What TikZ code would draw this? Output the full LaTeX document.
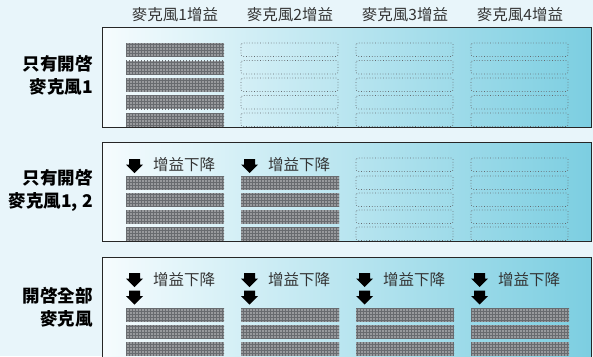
\documentclass[tikz,border=0pt]{standalone}
\usepackage{fontspec}
\setmainfont{Noto Sans CJK TC}
\usepackage{tikz}
\usetikzlibrary{patterns,positioning,calc}

\definecolor{bgblue}{RGB}{232,245,250}
\definecolor{panelleft}{RGB}{246,252,254}
\definecolor{panelright}{RGB}{124,206,225}
\definecolor{barfill}{RGB}{152,154,157}
\definecolor{bargrid}{RGB}{104,107,111}
\definecolor{dotgray}{RGB}{100,105,110}

\tikzset{
  panel/.style={draw=black!85, line width=0.8pt, left color=panelleft, right color=panelright},
  fullbar/.style={fill=barfill, postaction={pattern=grid, pattern color=bargrid}},
  emptybar/.style={draw=dotgray, dotted, line width=0.7pt, rounded corners=1.5pt},
  header/.style={font=\fontsize{15.5}{17}\selectfont, text=black!80, inner sep=0pt},
  rowlabel/.style={font=\fontsize{17.5}{23}\selectfont\bfseries, align=right, anchor=east, inner sep=0pt},
  droptext/.style={font=\fontsize{15.5}{17}\selectfont, text=black!80, anchor=west, inner sep=0pt},
  dnarrow/.pic={\fill[black] (-5.5,0) -- (5.5,0) -- (5.5,5.5) -- (8.5,5.5) -- (0,14) -- (-8.5,5.5) -- (-5.5,5.5) -- cycle;}
}

\begin{document}
\begin{tikzpicture}[x=1pt,y=-1pt]
\useasboundingbox (0,0) rectangle (593,356);
\clip (0,0) rectangle (593,356);
\fill[bgblue] (0,0) rectangle (593,356);

% Column headers
\foreach \i/\cx in {1/175,2/290,3/405,4/520}{
  \node[header] (head\i) at (\cx,15) {麥克風\i 增益};
}

% Panels
\draw[panel] (102,27) rectangle (591,127);
\draw[panel] (102,142) rectangle (591,241);
\draw[panel] (102,257) rectangle (591,362);

% Row labels
\node[rowlabel] (only1) at (93,75) {只有開啓\\麥克風1};
\node[rowlabel] (only12) at (93,190) {只有開啓\\麥克風1, 2};
\node[rowlabel] (all) at (93,307) {開啓全部\\麥克風};

% Panel 1: only mic 1
\foreach \y in {43,60.5,78,95.5,113}{
  \path[fullbar] (126,\y) rectangle ++(98,13.5);
  \foreach \cx in {241,356,471}
    \draw[emptybar] (\cx,\y) rectangle ++(97,13.5);
}

% Panel 2: mics 1 and 2
\foreach \cx/\n in {126/1,241/2}{
  \pic at (\cx+8.5,159) {dnarrow};
  \node[droptext] (dropb\n) at (\cx+27,165) {增益下降};
  \foreach \y in {176,193,210,227}
    \path[fullbar] (\cx,\y) rectangle ++(98,13.5);
}
\foreach \cx in {356,471}{
  \foreach \y in {158,176,193,210,227}
    \draw[emptybar] (\cx,\y) rectangle ++(97,13.5);
}

% Panel 3: all mics
\foreach \cx/\n in {126/1,241/2,356/3,471/4}{
  \pic at (\cx+8.5,273) {dnarrow};
  \pic at (\cx+8.5,290.5) {dnarrow};
  \node[droptext] (dropc\n) at (\cx+27,280) {增益下降};
  \foreach \y in {308,325,342}
    \path[fullbar] (\cx,\y) rectangle ++(98,13.5);
}

\end{tikzpicture}
\end{document}
